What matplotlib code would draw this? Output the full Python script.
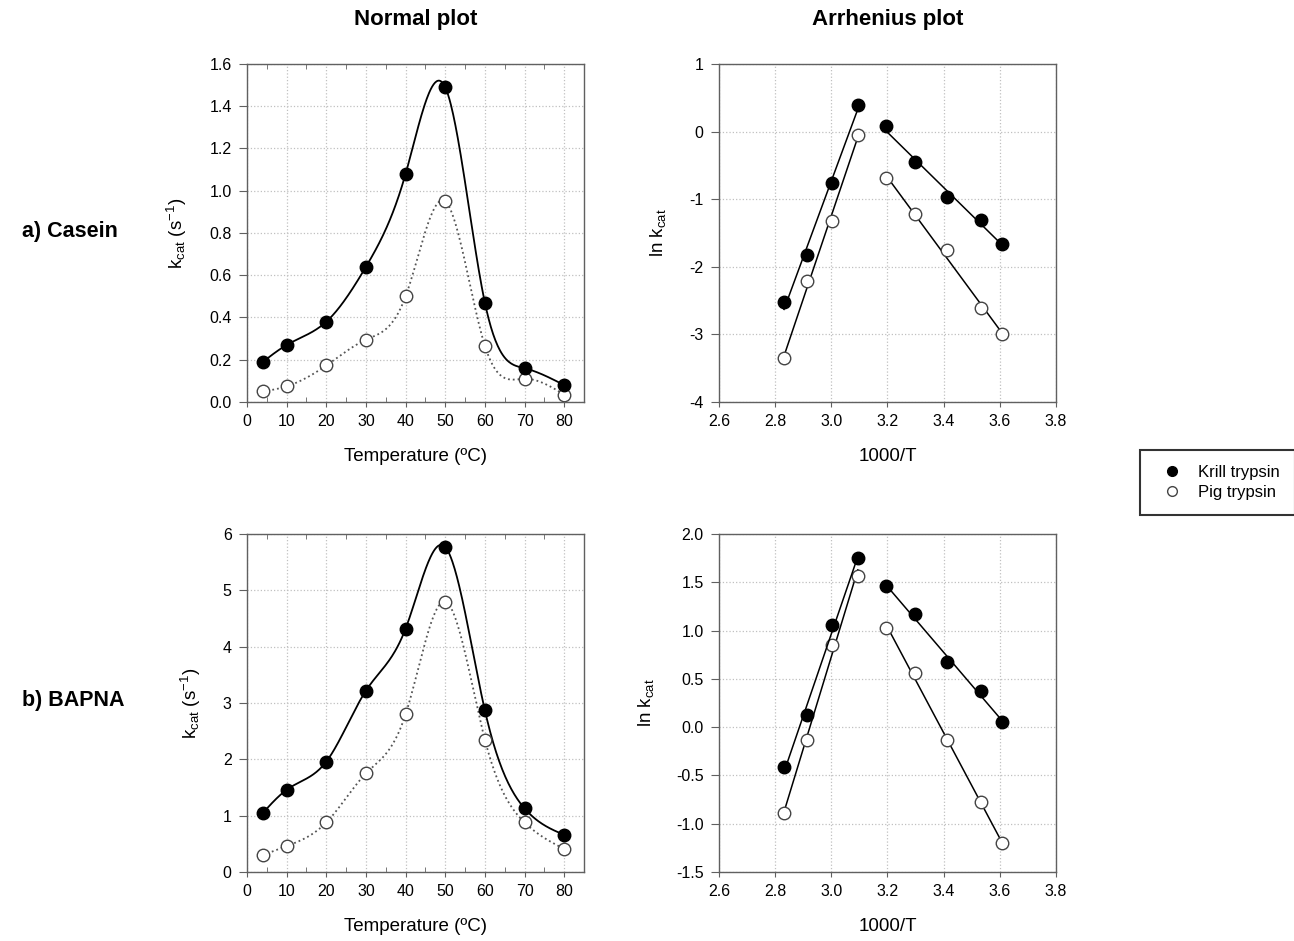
import numpy as np
import matplotlib
matplotlib.use("Agg")
from matplotlib import pyplot as plt
from matplotlib.ticker import MultipleLocator, NullLocator
from matplotlib.lines import Line2D

plt.rcParams['font.family'] = ['Liberation Sans', 'DejaVu Sans']
plt.rcParams['mathtext.fontset'] = 'custom'
plt.rcParams['mathtext.rm'] = 'Liberation Sans'
plt.rcParams['mathtext.it'] = 'Liberation Sans:italic'

# temperatures (degC)
temp = [4, 10, 20, 30, 40, 50, 60, 70, 80]

# kcat (s-1)
casein_krill = [0.19, 0.27, 0.38, 0.64, 1.08, 1.49, 0.47, 0.16, 0.08]
casein_pig = [0.05, 0.074, 0.173, 0.295, 0.50, 0.95, 0.266, 0.11, 0.035]
bapna_krill = [1.05, 1.46, 1.96, 3.22, 4.32, 5.77, 2.87, 1.13, 0.66]
bapna_pig = [0.30, 0.46, 0.88, 1.75, 2.80, 4.80, 2.35, 0.88, 0.41]


def natural_spline(x, y, n=400):
    # plain natural cubic spline, only used to draw the smooth curve
    x = np.asarray(x, float)
    y = np.asarray(y, float)
    m = len(x)
    h = np.diff(x)
    A = np.zeros((m, m))
    b = np.zeros(m)
    A[0, 0] = A[-1, -1] = 1
    for i in range(1, m - 1):
        A[i, i - 1] = h[i - 1]
        A[i, i] = 2 * (h[i - 1] + h[i])
        A[i, i + 1] = h[i]
        b[i] = 3 * ((y[i + 1] - y[i]) / h[i] - (y[i] - y[i - 1]) / h[i - 1])
    c = np.linalg.solve(A, b)
    xs = np.linspace(x[0], x[-1], n)
    idx = np.clip(np.searchsorted(x, xs) - 1, 0, m - 2)
    dx = xs - x[idx]
    bb = (y[idx + 1] - y[idx]) / h[idx] - h[idx] * (2 * c[idx] + c[idx + 1]) / 3
    dd = (c[idx + 1] - c[idx]) / (3 * h[idx])
    return xs, y[idx] + bb * dx + c[idx] * dx ** 2 + dd * dx ** 3


def style_axes(ax, ylab_x):
    for s in ax.spines.values():
        s.set_color('#606060')
        s.set_linewidth(1.0)
    ax.tick_params(which='major', direction='out', colors='#606060',
                   labelcolor='black', labelsize=11.5)
    ax.tick_params(axis='x', which='major', length=3.5, pad=5)
    ax.tick_params(axis='y', which='major', length=5.5, pad=5.5)
    ax.tick_params(axis='x', which='minor', direction='in', length=3.5,
                   top=True, colors='#606060')
    ax.grid(True, which='major', linestyle=':', color='#c0c0c0', linewidth=0.9)
    ax.set_axisbelow(True)
    ax.xaxis.set_label_coords(0.5, -0.135)
    ax.yaxis.set_label_coords(ylab_x, 0.5)


def normal_plot(ax, krill, pig, ylim, ystep, ylab_x):
    xs, ys = natural_spline(temp, pig)
    ax.plot(xs, ys, linestyle=':', color='#555555', lw=1.3)
    xs, ys = natural_spline(temp, krill)
    ax.plot(xs, ys, color='black', lw=1.3)
    ax.plot(temp, pig, 'o', ms=9, mfc='white', mec='#444444', mew=1.0)
    ax.plot(temp, krill, 'o', ms=9, mfc='black', mec='black')
    ax.set_xlim(0, 85)
    ax.set_ylim(*ylim)
    ax.xaxis.set_major_locator(MultipleLocator(10))
    ax.xaxis.set_minor_locator(MultipleLocator(5))
    ax.yaxis.set_major_locator(MultipleLocator(ystep))
    ax.yaxis.set_minor_locator(NullLocator())
    ax.set_xlabel('Temperature (ºC)', fontsize=13.5)
    ax.set_ylabel(r'k$_{\mathrm{cat}}$ (s$^{-1}$)', fontsize=13.5)
    style_axes(ax, ylab_x)


def arrhenius_plot(ax, krill, pig, ylim, ystep, fmt, ylab_x):
    invT = 1000.0 / (np.array(temp) + 273.15)
    for vals, face, edge in ((pig, 'white', '#444444'), (krill, 'black', 'black')):
        lnk = np.log(vals)
        for sel in (slice(0, 5), slice(5, 9)):
            p = np.polyfit(invT[sel], lnk[sel], 1)
            xx = np.array([invT[sel].min(), invT[sel].max()])
            ax.plot(xx, np.polyval(p, xx), color='black', lw=1.1)
        ax.plot(invT, lnk, 'o', ms=9, mfc=face, mec=edge, mew=1.0)
    ax.set_xlim(2.6, 3.8)
    ax.set_ylim(*ylim)
    ax.xaxis.set_major_locator(MultipleLocator(0.2))
    ax.xaxis.set_minor_locator(NullLocator())
    ax.yaxis.set_major_locator(MultipleLocator(ystep))
    ax.yaxis.set_minor_locator(NullLocator())
    ax.xaxis.set_major_formatter(lambda v, pos: '%.1f' % v)
    ax.yaxis.set_major_formatter(lambda v, pos: fmt % v)
    ax.set_xlabel('1000/T', fontsize=13.5)
    ax.set_ylabel(r'ln k$_{\mathrm{cat}}$', fontsize=13.5)
    style_axes(ax, ylab_x)


fig = plt.figure(figsize=(12.94, 9.41), dpi=100)
w, h = 0.2604, 0.3592
ax1 = fig.add_axes([0.1909, 0.5728, w, h])
ax2 = fig.add_axes([0.5556, 0.5728, w, h])
ax3 = fig.add_axes([0.1909, 0.0733, w, h])
ax4 = fig.add_axes([0.5556, 0.0733, w, h])

normal_plot(ax1, casein_krill, casein_pig, (0, 1.6), 0.2, -0.172)
ax1.yaxis.set_major_formatter(lambda v, pos: '%.1f' % v)
arrhenius_plot(ax2, casein_krill, casein_pig, (-4, 1), 1, '%g', -0.150)
normal_plot(ax3, bapna_krill, bapna_pig, (0, 6), 1, -0.130)
arrhenius_plot(ax4, bapna_krill, bapna_pig, (-1.5, 2.0), 0.5, '%.1f', -0.186)

fig.text(0.321, 0.979, 'Normal plot', ha='center', va='center',
         fontsize=16, fontweight='bold')
fig.text(0.686, 0.979, 'Arrhenius plot', ha='center', va='center',
         fontsize=16, fontweight='bold')
fig.text(0.017, 0.754, 'a) Casein', ha='left', va='center',
         fontsize=15.5, fontweight='bold')
fig.text(0.017, 0.256, 'b) BAPNA', ha='left', va='center',
         fontsize=15.5, fontweight='bold')

handles = [Line2D([], [], ls='none', marker='o', ms=7, mfc='black', mec='black'),
           Line2D([], [], ls='none', marker='o', ms=7, mfc='white', mec='#444444')]
leg = fig.legend(handles, ['Krill trypsin', 'Pig trypsin'], loc='upper left',
                 bbox_to_anchor=(0.881, 0.522), fontsize=12, frameon=True,
                 fancybox=False, edgecolor='black', borderpad=0.9,
                 handletextpad=0.6, labelspacing=0.3, borderaxespad=0)
leg.get_frame().set_linewidth(1.5)

fig.savefig('out.png', dpi=100)
